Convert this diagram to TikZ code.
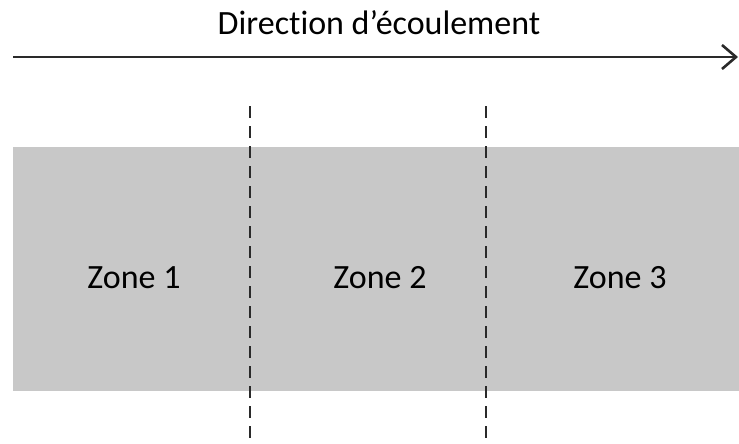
\documentclass[tikz,border=0pt]{standalone}
\usepackage{fontspec}
\setmainfont[Ligatures=NoCommon]{Carlito}
\usetikzlibrary{arrows.meta}
\definecolor{zonegray}{HTML}{C8C8C8}
\definecolor{inkgray}{HTML}{2A2A2A}
\begin{document}
\begin{tikzpicture}[
            x=1pt,
            y=-1pt,
            band/.style={
                rectangle,
                fill=zonegray,
                draw=none
            },
            label/.style={
                anchor=base,
                inner sep=0pt,
                font=\fontsize{34}{40}\selectfont
            },
            flow/.style={-{Straight Barb[length=14pt,width=24pt,line width=2.6pt]}, line width=2.6pt, draw=inkgray},
            border/.style={dash pattern=on 12pt off 8pt, line width=2.6pt, draw=inkgray}
        ]
        \useasboundingbox (0,0) rectangle (739,444);

        % Gray channel
        \fill[band] (13,147) rectangle (739,391);

        % Flow direction
        \coordinate (fstart) at (13,57);
        \coordinate (fend) at (738,57);
        \draw[flow] (fstart) -- (fend);
        \node[label] (title) at (379,35) {Direction d’écoulement};

        % Zone borders
        \coordinate (b1top) at (250,106);
        \coordinate (b1bot) at (250,444);
        \coordinate (b2top) at (486,106);
        \coordinate (b2bot) at (486,444);
        \draw[border] (b1top) -- (b1bot);
        \draw[border] (b2top) -- (b2bot);

        % Zone labels
        \node[label] (z1) at (134,288) {Zone 1};
        \node[label] (z2) at (380,288) {Zone 2};
        \node[label] (z3) at (620,288) {Zone 3};

        \end{tikzpicture}
\end{document}
